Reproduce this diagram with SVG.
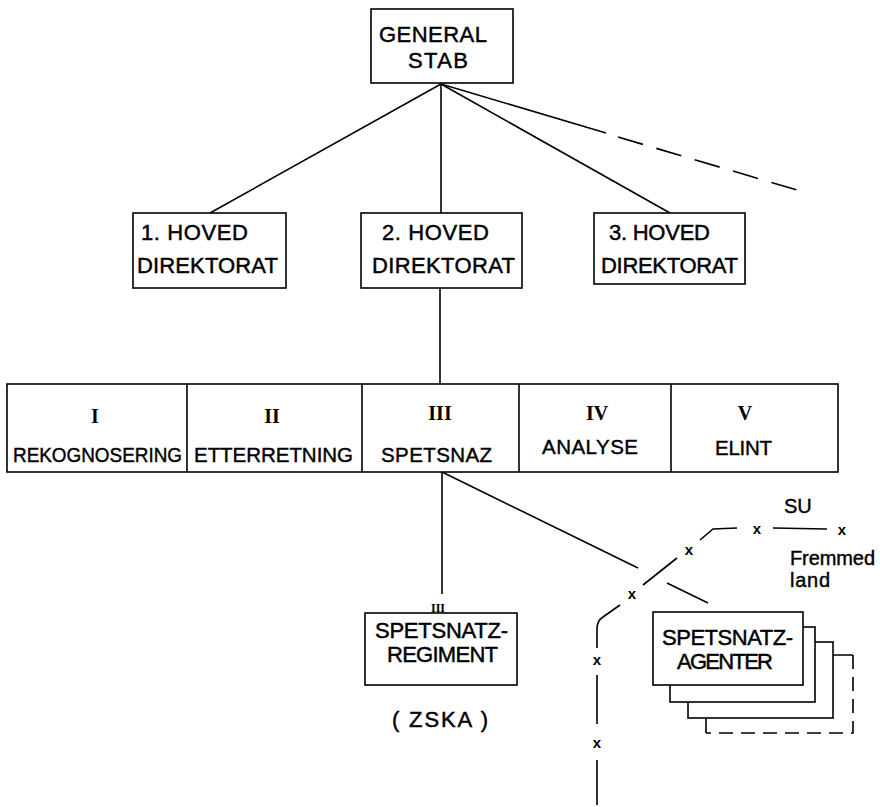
<svg xmlns="http://www.w3.org/2000/svg" width="880" height="807" viewBox="0 0 880 807">
<style>
.box{fill:#fff;stroke:#000;stroke-width:1.6}
.ln{fill:none;stroke:#000;stroke-width:1.6}
.dash{fill:none;stroke:#000;stroke-width:1.6;stroke-dasharray:26 14}
.t{font-family:"Liberation Sans",Arial,sans-serif;font-size:22px;fill:#000;stroke:#000;stroke-width:0.45}
.cell{font-family:"Liberation Sans",Arial,sans-serif;font-size:20.5px;fill:#000;stroke:#000;stroke-width:0.4}
.rn{font-family:"Liberation Serif","Times New Roman",serif;font-size:20px;font-weight:bold;fill:#000;text-anchor:middle}
.sm{font-family:"Liberation Sans",Arial,sans-serif;font-size:20px;fill:#000;stroke:#000;stroke-width:0.4}
.bx{font-family:"Liberation Sans",Arial,sans-serif;font-size:15px;font-weight:bold;fill:#000;text-anchor:middle}
</style>
<rect width="880" height="807" fill="#fff"/>

<g id="connectors">
  <line class="ln" x1="441" y1="84" x2="210" y2="213"/>
  <line class="ln" x1="441" y1="84" x2="441" y2="213"/>
  <line class="ln" x1="441" y1="84" x2="670" y2="213"/>
  <line class="ln" x1="441" y1="84" x2="606" y2="133"/>
  <line class="dash" x1="618" y1="137" x2="807" y2="193"/>
  <line class="ln" x1="440" y1="288" x2="440" y2="384"/>
  <line class="ln" x1="442" y1="472" x2="442" y2="594"/>
  <line class="ln" x1="442" y1="472" x2="638" y2="568"/>
  <line class="ln" x1="667" y1="583" x2="708" y2="603"/>
</g>

<g id="border">
  <path class="ln" d="M597,805 L597,760 M597,724 L597,675 M597,648 L597,628 Q597,621 603,617 L620,605 M643,585 L677,558 M700,540 L713,529 L737,528 M773,528 L827,529"/>
  <text class="bx" x="597" y="748">x</text>
  <text class="bx" x="597" y="665">x</text>
  <text class="bx" x="632" y="599">x</text>
  <text class="bx" x="689" y="555">x</text>
  <text class="bx" x="757" y="534">x</text>
  <text class="bx" x="842" y="535">x</text>
  <text class="sm" x="784" y="513">SU</text>
  <text class="sm" x="790" y="565" textLength="85">Fremmed</text>
  <text class="sm" x="790" y="587" textLength="40">land</text>
</g>

<g id="generalstab">
  <rect class="box" x="371" y="9" width="142" height="74"/>
  <text class="t" x="379" y="42" textLength="108">GENERAL</text>
  <text class="t" x="408" y="68" textLength="60">STAB</text>
</g>

<g id="hoved1">
  <rect class="box" x="133" y="213" width="153" height="75"/>
  <text class="t" x="141" y="240" textLength="107">1. HOVED</text>
  <text class="t" x="137" y="273" textLength="141">DIREKTORAT</text>
</g>

<g id="hoved2">
  <rect class="box" x="361" y="213" width="161" height="75"/>
  <text class="t" x="382" y="240" textLength="107">2. HOVED</text>
  <text class="t" x="372" y="273" textLength="143">DIREKTORAT</text>
</g>

<g id="hoved3">
  <rect class="box" x="594" y="213" width="151" height="71"/>
  <text class="t" x="609" y="240" textLength="101">3. HOVED</text>
  <text class="t" x="601" y="273" textLength="137">DIREKTORAT</text>
</g>

<g id="avdelinger">
  <rect class="box" x="7" y="384" width="831" height="88"/>
  <line class="ln" x1="187" y1="384" x2="187" y2="472"/>
  <line class="ln" x1="362" y1="384" x2="362" y2="472"/>
  <line class="ln" x1="519" y1="384" x2="519" y2="472"/>
  <line class="ln" x1="671" y1="384" x2="671" y2="472"/>
</g>
<g id="cell-I">
  <text class="rn" x="95" y="423">I</text>
  <text class="cell" x="13" y="462" textLength="169" lengthAdjust="spacingAndGlyphs">REKOGNOSERING</text>
</g>
<g id="cell-II">
  <text class="rn" x="272" y="423">II</text>
  <text class="cell" x="194" y="462" textLength="159">ETTERRETNING</text>
</g>
<g id="cell-III">
  <text class="rn" x="440" y="420">III</text>
  <text class="cell" x="381" y="462" textLength="111">SPETSNAZ</text>
</g>
<g id="cell-IV">
  <text class="rn" x="597" y="420">IV</text>
  <text class="cell" x="542" y="454" textLength="96">ANALYSE</text>
</g>
<g id="cell-V">
  <text class="rn" x="745" y="420">V</text>
  <text class="cell" x="715" y="455" textLength="57">ELINT</text>
</g>

<g id="regiment">
  <text style="font-family:'Liberation Serif',serif;font-size:12px;font-weight:bold;text-anchor:middle" x="438" y="612">III</text>
  <rect class="box" x="365" y="613" width="152" height="72"/>
  <text class="t" x="375" y="638" textLength="133">SPETSNATZ-</text>
  <text class="t" x="387" y="662" textLength="111">REGIMENT</text>
  <text class="t" x="392" y="727" textLength="96">( ZSKA )</text>
</g>

<g id="agenter">
  <path class="ln" d="M706,718 L706,733 M833,655 L853,655"/>
  <path class="dash" style="stroke-dasharray:14 8" d="M853,655 L853,733 L706,733"/>
  <rect class="box" x="688" y="642" width="145" height="76"/>
  <rect class="box" x="670" y="627" width="145" height="75"/>
  <rect class="box" x="653" y="612" width="150" height="73"/>
  <text class="t" x="662" y="645" textLength="131">SPETSNATZ-</text>
  <text class="t" x="677" y="669" textLength="96">AGENTER</text>
</g>
</svg>
